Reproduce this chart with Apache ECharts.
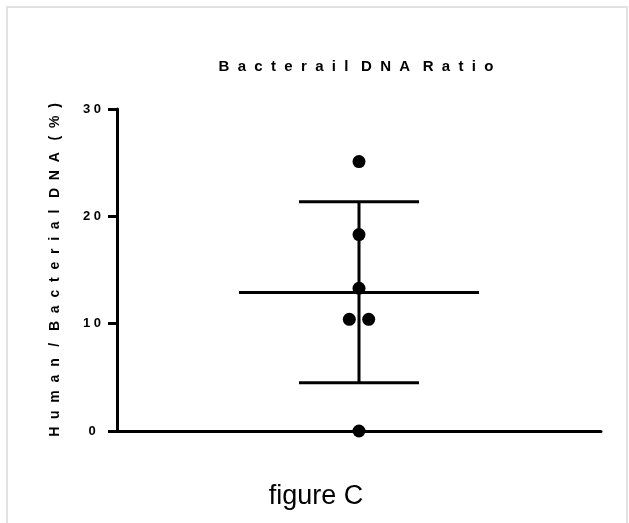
<!DOCTYPE html>
<html>
<head>
<meta charset="utf-8">
<script src="https://cdn.jsdelivr.net/npm/echarts@6/dist/echarts.min.js"></script>
<style>
  html, body { margin: 0; padding: 0; background: #fff; }
  #chart { width: 629px; height: 523px; }
</style>
</head>
<body>
<div id="chart"></div>
<script>
// values
const groupX = 1;
const points = [25.1, 18.3, 13.3, 10.4, 10.4, 0];
const jitter = [0, 0, 0, -0.04, 0.04, 0];
const meanValue = 12.9;
const sdHigh = 21.35;
const sdLow = 4.5;
const yTicks = [0, 10, 20, 30];

const meanHalf = 0.496;
const capHalf = 0.248;

// spread letters like the original figure
function spaced(s) {
    return s.split(' ').map(w => w.split('').join('  ')).join('   ');
}

const lineStyle = { color: '#000', width: 3 };

function segment(data) {
    return {
        type: 'line',
        data: data,
        symbol: 'none',
        silent: true,
        lineStyle: lineStyle,
        z: 3
    };
}

const chart = echarts.init(document.getElementById('chart'));
chart.setOption({
    animation: false,
    title: {
        text: spaced('Bacterail DNA Ratio'),
        left: 351,
        top: 54,
        textAlign: 'center',
        textStyle: { fontFamily: 'Liberation Sans', fontWeight: 'bold', fontSize: 15, color: '#000' }
    },
    graphic: [
        { type: 'line', shape: { x1: 6, y1: 7, x2: 628, y2: 7 }, style: { stroke: '#e2e2e2', lineWidth: 2 } },
        { type: 'line', shape: { x1: 7, y1: 6, x2: 7, y2: 523 }, style: { stroke: '#e2e2e2', lineWidth: 2 } },
        { type: 'line', shape: { x1: 627, y1: 6, x2: 627, y2: 523 }, style: { stroke: '#e2e2e2', lineWidth: 2 } },
        {
            type: 'text',
            style: { x: 316, y: 497, text: 'figure C', fontFamily: 'Liberation Sans', fontSize: 27, fill: '#000', align: 'center', verticalAlign: 'middle' }
        }
    ],
    grid: { left: 117, right: 28, top: 109, bottom: 92 },
    xAxis: {
        type: 'value',
        min: 0,
        max: 2,
        axisLine: { show: true, lineStyle: { color: '#000', width: 3 } },
        axisTick: { show: false },
        axisLabel: { show: false },
        splitLine: { show: false }
    },
    yAxis: {
        type: 'value',
        min: yTicks[0],
        max: yTicks[yTicks.length - 1],
        interval: 10,
        name: spaced('Human / Bacterial DNA (%)'),
        nameLocation: 'middle',
        nameRotate: 90,
        nameGap: 55,
        nameTextStyle: { fontFamily: 'Liberation Sans', fontWeight: 'bold', fontSize: 14, color: '#000' },
        axisLine: { show: true, lineStyle: { color: '#000', width: 3 } },
        axisTick: { show: true, length: 9, lineStyle: { color: '#000', width: 3 } },
        axisLabel: {
            margin: 25,
            align: 'center',
            fontFamily: 'Liberation Sans',
            fontWeight: 'bold',
            fontSize: 13,
            color: '#000',
            formatter: v => String(v).split('').join(' ')
        },
        splitLine: { show: false }
    },
    series: [
        segment([[groupX - meanHalf, meanValue], [groupX + meanHalf, meanValue]]),
        segment([[groupX, sdLow], [groupX, sdHigh]]),
        segment([[groupX - capHalf, sdHigh], [groupX + capHalf, sdHigh]]),
        segment([[groupX - capHalf, sdLow], [groupX + capHalf, sdLow]]),
        {
            type: 'scatter',
            data: points.map((v, i) => [groupX + jitter[i], v]),
            symbol: 'circle',
            symbolSize: 13,
            itemStyle: { color: '#000', opacity: 1 },
            clip: false,
            z: 5
        }
    ]
});
</script>
</body>
</html>
